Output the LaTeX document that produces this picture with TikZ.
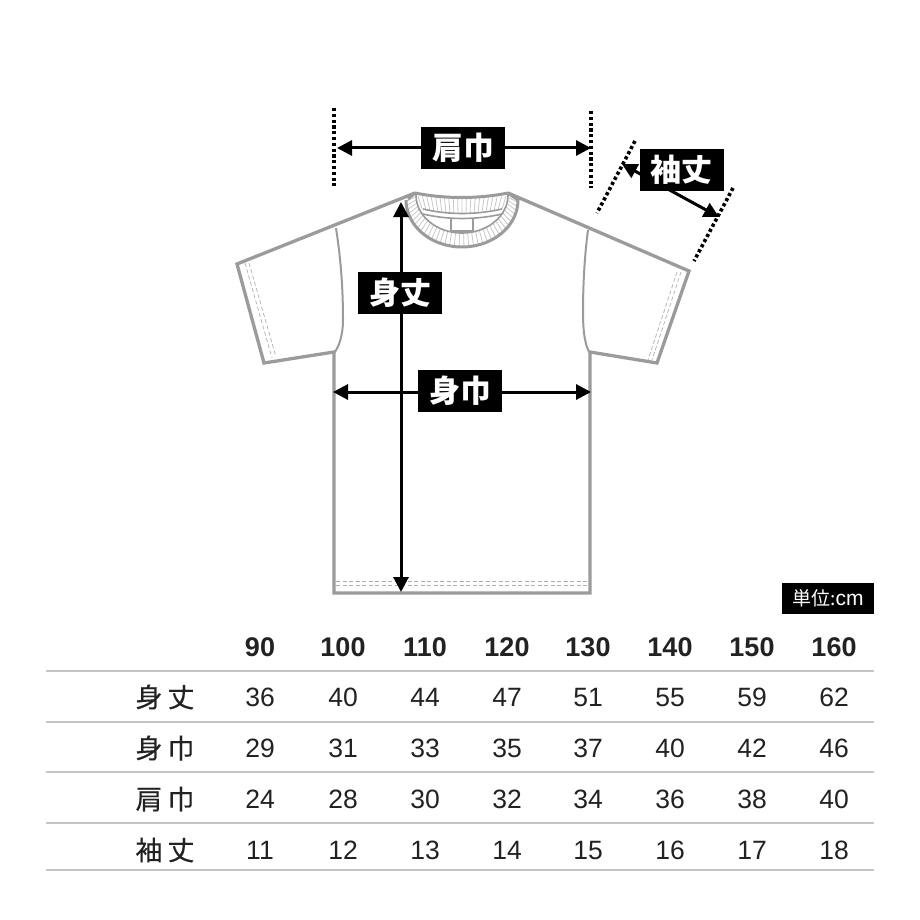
\documentclass[tikz,border=0pt]{standalone}
\usepackage{fontspec}
\setmainfont{Liberation Sans}
\newfontfamily\cjk{Noto Sans CJK JP}
\newfontfamily\cjkrow[FakeBold=0.35]{Noto Sans CJK JP}
\usetikzlibrary{arrows.meta}
\definecolor{garment}{HTML}{9B9B9B}
\definecolor{rule}{HTML}{C4C4C4}
\definecolor{ink}{HTML}{222222}
\tikzset{
  outline/.style={draw=garment,line width=3.3pt,line join=miter},
  seam/.style={draw=garment,line width=2pt},
  thin/.style={draw=garment,line width=1.1pt},
  rib/.style={draw=garment!55,line width=.8pt},
  stitch/.style={draw=garment!80,line width=.7pt,dash pattern=on 4pt off 2.5pt},
  guide/.style={draw=black,line width=3.6pt,dash pattern=on 3.2pt off 2.6pt},
  measure/.style={draw=black,line width=3pt,{Triangle[length=15pt,width=15pt]}-{Triangle[length=15pt,width=15pt]}},
  tag/.style={fill=black,text=white,font=\cjk\bfseries\fontsize{31}{31}\selectfont,inner sep=0pt,minimum width=84pt,minimum height=42pt,anchor=center},
  head/.style={font=\bfseries\fontsize{27}{27}\selectfont,text=ink,anchor=center,inner sep=0pt,text height=19pt,text depth=0pt},
  val/.style={font=\fontsize{26.5}{27}\selectfont,text=ink,anchor=center,inner sep=0pt,text height=19pt,text depth=0pt},
  rowlab/.style={font=\cjkrow\fontsize{27}{27}\selectfont,text=ink,anchor=center,inner sep=0pt},
  hline/.style={draw=rule,line width=1.5pt}
}
\begin{document}
\begin{tikzpicture}[x=1pt,y=-1pt]
\useasboundingbox (0,0) rectangle (920,920);
\fill[white] (0,0) rectangle (920,920);
% garment
\draw[outline] (415,193) -- (237,264) -- (264,363) -- (334,352) -- (334,593) -- (590,593) -- (590,352) -- (657,363) -- (689,271) -- (508,193);
\draw[seam] (336,228) .. controls (341,260) and (343,290) .. (343,320) .. controls (343,335) and (339,347) .. (334,353);
\draw[seam] (588,230) .. controls (584,260) and (583,290) .. (583,313) .. controls (583,335) and (586,348) .. (590,353);
% sleeve and hem stitching
\draw[stitch] (245,263) -- (272,358);
\draw[stitch] (249,263) -- (276,357);
\draw[stitch] (677,272) -- (648,360);
\draw[stitch] (681,272) -- (652,360);
\draw[stitch] (336,581) -- (589,581);
\draw[stitch] (336,585) -- (589,585);
% collar ribs
\foreach \a in {3,8,...,178}
  \draw[rib] ({462+46*cos(\a)},{195+38*sin(\a)}) -- ({462+56*cos(\a)},{200+47*sin(\a)});
\foreach \t in {-1,-.9,...,1.01}
  \draw[rib] ({462+44*\t},{196+2*(1-\t*\t)}) -- ({462+40*\t},{209+5*(1-\t*\t)});
% collar outlines
\draw[outline,line width=3pt] (415,193) .. controls (445,199) and (478,199) .. (508,193);
\draw[outline,line width=3pt] (415,193) -- (408,199) plot[domain=180:0,samples=50] ({462+56*cos(\x)},{200+47*sin(\x)}) -- (508,193);
\draw[thin,line width=1.6pt] plot[domain=180:0,samples=50] ({462+46*cos(\x)},{195+38*sin(\x)});
\draw[thin,line width=1.6pt] (423,209) .. controls (448,215) and (476,215) .. (502,209);
\draw[thin,line width=1.6pt] (423,214) .. controls (448,220) and (476,220) .. (502,214);
\draw[thin] (451,219) -- (451,231) -- (473,231) -- (473,219);
% guides
\coordinate (gAt) at (334,108); \coordinate (gAb) at (334,186);
\coordinate (gBt) at (591,111); \coordinate (gBb) at (591,188);
\coordinate (gCt) at (635,141); \coordinate (gCb) at (597,213);
\coordinate (gDt) at (733,188); \coordinate (gDb) at (694,261);
\draw[guide] (gAt) -- (gAb);
\draw[guide] (gBt) -- (gBb);
\draw[guide] (gCt) -- (gCb);
\draw[guide] (gDt) -- (gDb);
% measures
\coordinate (sL) at (337,148); \coordinate (sR) at (591,148);
\coordinate (bL) at (333,392); \coordinate (bR) at (591,392);
\coordinate (lT) at (401,202); \coordinate (lB) at (401,592);
\coordinate (aL) at (622,164); \coordinate (aR) at (719,217);
\draw[measure] (sL) -- (sR);
\draw[measure] (bL) -- (bR);
\draw[measure] (lT) -- (lB);
\draw[measure] (aL) -- (aR);
\node[tag] (tagShoulder) at (463,148) {肩巾};
\node[tag] (tagLength) at (400,293) {身丈};
\node[tag] (tagWidth) at (460,391) {身巾};
\node[tag] (tagSleeve) at (681.5,170) {袖丈};
% unit
\node[fill=black,text=white,inner sep=0pt,minimum width=92pt,minimum height=31pt,font=\fontsize{21}{21}\selectfont] (unit) at (828,598.5) {{\cjk\fontsize{19}{19}\selectfont 単位:}cm};
% table
\foreach \y in {671,722,772,823,870}
  \draw[hline] (46,\y) -- (874,\y);
\foreach \x/\t in {260/90,343/100,425/110,507/120,588/130,670/140,752/150,834/160}
  \node[head] (h\t) at (\x,647) {\t};
\node[rowlab] (r1) at (165,697) {身\hspace{5pt}丈};
\node[rowlab] (r2) at (165,748) {身\hspace{5pt}巾};
\node[rowlab] (r3) at (165,799) {肩\hspace{5pt}巾};
\node[rowlab] (r4) at (165,850) {袖\hspace{5pt}丈};
\foreach \x/\t in {260/36,343/40,425/44,507/47,588/51,670/55,752/59,834/62}
  \node[val] (a\x) at (\x,697) {\t};
\foreach \x/\t in {260/29,343/31,425/33,507/35,588/37,670/40,752/42,834/46}
  \node[val] (b\x) at (\x,748) {\t};
\foreach \x/\t in {260/24,343/28,425/30,507/32,588/34,670/36,752/38,834/40}
  \node[val] (c\x) at (\x,799) {\t};
\foreach \x/\t in {260/11,343/12,425/13,507/14,588/15,670/16,752/17,834/18}
  \node[val] (d\x) at (\x,850) {\t};
\end{tikzpicture}
\end{document}
